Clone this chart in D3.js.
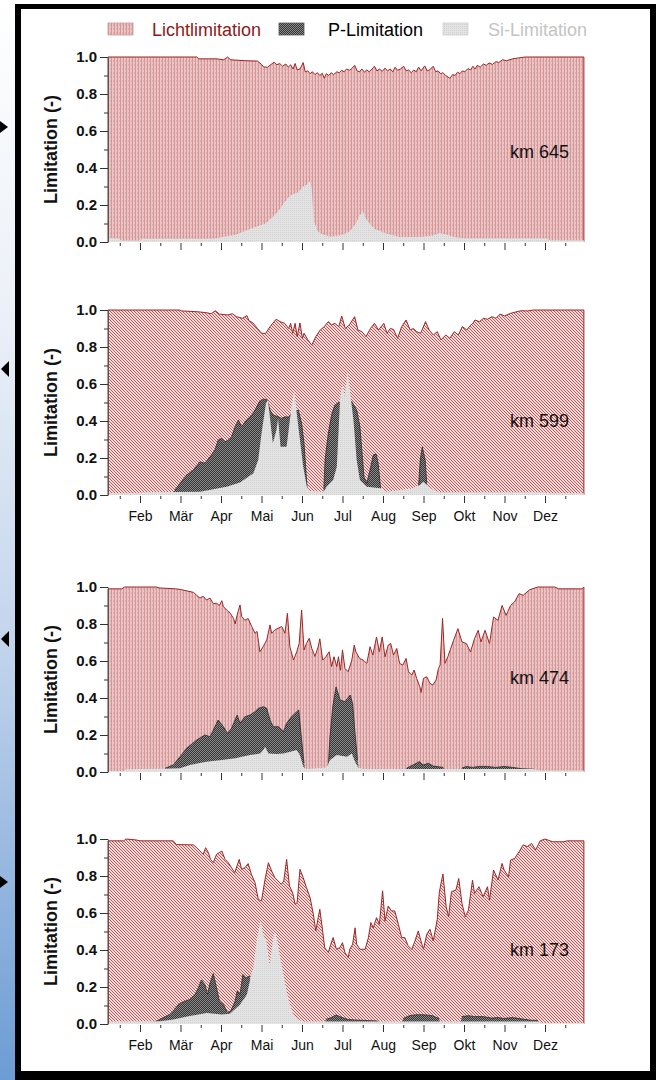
<!DOCTYPE html>
<html><head><meta charset="utf-8">
<script src="https://cdn.jsdelivr.net/npm/d3@7/dist/d3.min.js"></script>
<style>html,body{margin:0;padding:0;background:#fff}svg{display:block}</style>
</head><body>
<svg id="chart" width="658" height="1080"></svg>
<script>
// ---------- data (x in months: 1 = Feb ... 11 = Dez) ----------
const monthLabels = ["Feb","Mär","Apr","Mai","Jun","Jul","Aug","Sep","Okt","Nov","Dez"];
const monthTicks = [1,2,3,4,5,6,7,8,9,10,11];
const halfTicks = [0.5,1.5,2.5,3.5,4.5,5.5,6.5,7.5,8.5,9.5,10.5,11.5];
const yTicks = [0,0.2,0.4,0.6,0.8,1.0];
const yMinor = [0.1,0.3,0.5,0.7,0.9];
const stations = ["km 645","km 599","km 474","km 173"];
const stationLabelY = [0.49,0.405,0.51,0.40];
const legendNames = ["Lichtlimitation","P-Limitation","Si-Limitation"];

const licht645 = [[0.21,1],[2.4,1],[2.45,0.99],[2.9,0.99],[3.07,0.985],[3.16,1],[3.24,0.985],[3.59,0.98],[3.9,0.978],[4.0,0.96],[4.05,0.946],[4.15,0.945],[4.31,0.972],[4.38,0.958],[4.45,0.965],[4.52,0.95],[4.6,0.962],[4.66,0.945],[4.72,0.958],[4.78,0.935],[4.83,0.965],[4.88,0.93],[4.95,0.935],[5.03,0.97],[5.08,0.92],[5.14,0.925],[5.2,0.91],[5.26,0.92],[5.32,0.905],[5.38,0.915],[5.44,0.9],[5.5,0.912],[5.55,0.885],[5.6,0.91],[5.66,0.9],[5.72,0.915],[5.78,0.905],[5.86,0.92],[5.92,0.915],[5.98,0.928],[6.04,0.92],[6.1,0.935],[6.17,0.928],[6.23,0.938],[6.3,0.955],[6.36,0.925],[6.42,0.92],[6.48,0.935],[6.54,0.918],[6.6,0.93],[6.66,0.92],[6.73,0.935],[6.79,0.95],[6.85,0.925],[6.92,0.935],[6.98,0.922],[7.05,0.94],[7.11,0.925],[7.18,0.935],[7.24,0.92],[7.3,0.945],[7.36,0.928],[7.43,0.935],[7.51,0.95],[7.57,0.925],[7.63,0.93],[7.7,0.915],[7.76,0.93],[7.82,0.92],[7.88,0.945],[7.94,0.925],[8.03,0.952],[8.09,0.925],[8.15,0.93],[8.24,0.95],[8.3,0.92],[8.36,0.925],[8.42,0.91],[8.48,0.915],[8.55,0.9],[8.65,0.885],[8.72,0.905],[8.78,0.9],[8.84,0.918],[8.9,0.91],[8.96,0.925],[9.02,0.92],[9.1,0.938],[9.16,0.93],[9.22,0.95],[9.27,0.935],[9.33,0.955],[9.4,0.945],[9.48,0.962],[9.55,0.955],[9.62,0.968],[9.7,0.96],[9.79,0.975],[9.86,0.97],[9.95,0.985],[10.05,0.98],[10.2,0.99],[10.35,0.995],[10.51,1],[11.96,1]];
const p645 = [];
const si645 = [[0.21,0.021],[0.45,0.02],[0.55,0.008],[1.0,0.008],[1.05,0.018],[2.8,0.018],[3.07,0.028],[3.35,0.038],[3.59,0.06],[3.9,0.085],[4.1,0.1],[4.25,0.13],[4.41,0.165],[4.55,0.21],[4.66,0.24],[4.77,0.26],[4.88,0.265],[4.95,0.28],[5.03,0.3],[5.12,0.31],[5.19,0.33],[5.24,0.29],[5.29,0.12],[5.38,0.06],[5.5,0.04],[5.71,0.028],[5.96,0.036],[6.17,0.055],[6.3,0.09],[6.42,0.14],[6.5,0.168],[6.58,0.125],[6.79,0.07],[7.1,0.045],[7.41,0.027],[7.93,0.027],[8.24,0.035],[8.39,0.048],[8.55,0.04],[8.76,0.027],[9.0,0.02],[11.03,0.02],[11.13,0.01],[11.96,0.01]];

const licht599 = [[0.21,1],[1.98,1],[2.03,0.995],[2.45,0.99],[2.65,0.985],[2.76,0.98],[2.86,0.996],[2.96,0.978],[3.17,0.973],[3.28,0.98],[3.38,0.964],[3.53,0.955],[3.64,0.97],[3.69,0.942],[3.79,0.93],[3.9,0.9],[4.0,0.875],[4.1,0.873],[4.21,0.91],[4.36,0.95],[4.46,0.937],[4.57,0.928],[4.67,0.9],[4.72,0.928],[4.77,0.874],[4.83,0.928],[4.88,0.856],[4.95,0.93],[5.01,0.847],[5.05,0.874],[5.14,0.84],[5.24,0.81],[5.34,0.856],[5.45,0.892],[5.55,0.91],[5.65,0.937],[5.73,0.92],[5.81,0.928],[5.91,0.91],[5.98,0.968],[6.07,0.9],[6.17,0.92],[6.3,0.964],[6.38,0.892],[6.48,0.883],[6.58,0.856],[6.69,0.9],[6.79,0.928],[6.89,0.892],[7.02,0.928],[7.1,0.874],[7.18,0.9],[7.26,0.895],[7.36,0.847],[7.46,0.91],[7.57,0.946],[7.67,0.892],[7.75,0.9],[7.83,0.883],[7.93,0.874],[8.05,0.937],[8.14,0.892],[8.24,0.865],[8.34,0.883],[8.43,0.838],[8.55,0.865],[8.65,0.847],[8.76,0.883],[8.86,0.865],[8.96,0.91],[9.07,0.892],[9.15,0.915],[9.22,0.928],[9.27,0.946],[9.38,0.937],[9.48,0.955],[9.58,0.95],[9.69,0.964],[9.79,0.955],[9.89,0.978],[10.0,0.968],[10.15,0.982],[10.31,0.991],[10.41,0.996],[10.57,0.995],[10.72,1],[11.96,1]];
const p599 = [[1.8,0],[1.86,0.027],[1.99,0.063],[2.15,0.108],[2.32,0.135],[2.48,0.18],[2.6,0.171],[2.73,0.207],[2.85,0.243],[2.93,0.297],[3.02,0.306],[3.1,0.288],[3.18,0.297],[3.26,0.315],[3.35,0.369],[3.43,0.405],[3.51,0.369],[3.63,0.405],[3.76,0.432],[3.84,0.459],[3.95,0.505],[4.05,0.519],[4.14,0.514],[4.21,0.459],[4.29,0.432],[4.42,0.423],[4.5,0.414],[4.58,0.423],[4.66,0.42],[4.74,0.44],[4.91,0.459],[4.99,0.387],[5.05,0.279],[5.1,0.117],[5.13,0.027],[5.16,0],[5.51,0],[5.54,0.03],[5.57,0.19],[5.65,0.333],[5.73,0.432],[5.81,0.486],[5.9,0.5],[6.23,0.505],[6.35,0.459],[6.43,0.369],[6.47,0.261],[6.53,0.099],[6.6,0.063],[6.68,0.135],[6.76,0.216],[6.83,0.222],[6.88,0.171],[6.94,0.036],[6.97,0],[7.85,0],[7.88,0.05],[7.92,0.19],[7.97,0.26],[8.04,0.19],[8.08,0.063],[8.12,0]];
const si599 = [[0.21,0.01],[1.0,0.01],[1.05,0.015],[2.48,0.018],[3.14,0.045],[3.47,0.067],[3.8,0.117],[3.92,0.19],[4.0,0.333],[4.11,0.495],[4.16,0.514],[4.28,0.28],[4.37,0.351],[4.41,0.414],[4.47,0.261],[4.62,0.261],[4.74,0.477],[4.81,0.568],[4.87,0.441],[4.95,0.297],[5.03,0.153],[5.12,0.045],[5.2,0.022],[5.53,0.018],[5.61,0.045],[5.77,0.081],[5.86,0.153],[5.94,0.514],[6.0,0.604],[6.05,0.532],[6.13,0.667],[6.19,0.55],[6.27,0.405],[6.35,0.189],[6.43,0.081],[6.6,0.045],[6.93,0.036],[7.09,0.018],[7.74,0.036],[7.91,0.054],[7.99,0.072],[8.08,0.054],[8.24,0.027],[8.4,0.015],[11.0,0.015],[11.1,0.01],[11.96,0.01]];

const licht474 = [[0.21,0.99],[0.55,0.99],[0.62,1],[1.4,1],[1.47,0.995],[1.88,0.99],[1.99,0.987],[2.32,0.971],[2.4,0.955],[2.48,0.94],[2.56,0.95],[2.64,0.93],[2.73,0.94],[2.81,0.91],[2.89,0.912],[2.96,0.9],[3.02,0.926],[3.06,0.894],[3.14,0.876],[3.23,0.858],[3.31,0.83],[3.35,0.8],[3.4,0.85],[3.47,0.903],[3.51,0.84],[3.59,0.82],[3.67,0.83],[3.76,0.786],[3.84,0.75],[3.89,0.76],[3.96,0.65],[4.04,0.677],[4.13,0.714],[4.21,0.795],[4.25,0.75],[4.33,0.768],[4.41,0.777],[4.5,0.786],[4.58,0.75],[4.64,0.858],[4.7,0.678],[4.79,0.605],[4.87,0.65],[4.93,0.695],[4.99,0.876],[5.05,0.66],[5.11,0.695],[5.18,0.723],[5.24,0.668],[5.32,0.625],[5.4,0.677],[5.44,0.72],[5.51,0.605],[5.59,0.623],[5.67,0.65],[5.73,0.57],[5.79,0.623],[5.86,0.57],[5.9,0.623],[5.95,0.55],[6.0,0.66],[6.06,0.56],[6.14,0.542],[6.23,0.605],[6.29,0.686],[6.33,0.65],[6.42,0.614],[6.51,0.605],[6.6,0.587],[6.68,0.677],[6.75,0.632],[6.84,0.73],[6.91,0.65],[6.98,0.73],[7.05,0.623],[7.13,0.686],[7.19,0.695],[7.26,0.632],[7.34,0.668],[7.41,0.587],[7.49,0.578],[7.57,0.614],[7.63,0.542],[7.71,0.524],[7.77,0.551],[7.83,0.506],[7.91,0.461],[7.94,0.43],[8.0,0.506],[8.08,0.515],[8.16,0.479],[8.23,0.47],[8.31,0.497],[8.37,0.56],[8.41,0.578],[8.47,0.83],[8.53,0.587],[8.6,0.623],[8.66,0.66],[8.74,0.71],[8.85,0.775],[8.95,0.703],[9.06,0.694],[9.16,0.649],[9.26,0.721],[9.35,0.766],[9.42,0.703],[9.52,0.766],[9.63,0.694],[9.73,0.838],[9.84,0.82],[9.94,0.9],[10.04,0.847],[10.15,0.9],[10.25,0.92],[10.36,0.964],[10.46,0.955],[10.62,0.985],[10.82,1],[11.24,1],[11.34,0.99],[11.91,0.99],[11.96,1]];
const p474 = [[1.58,0],[1.62,0.02],[1.82,0.038],[1.99,0.083],[2.15,0.128],[2.4,0.173],[2.6,0.2],[2.73,0.191],[2.85,0.245],[2.93,0.281],[3.06,0.245],[3.16,0.209],[3.26,0.236],[3.4,0.308],[3.47,0.263],[3.59,0.299],[3.72,0.308],[3.84,0.326],[3.92,0.344],[4.05,0.353],[4.13,0.344],[4.21,0.281],[4.29,0.245],[4.42,0.245],[4.54,0.218],[4.62,0.263],[4.74,0.299],[4.87,0.326],[4.92,0.335],[4.99,0.173],[5.05,0.047],[5.1,0],[5.62,0],[5.65,0.03],[5.69,0.19],[5.76,0.353],[5.84,0.46],[5.94,0.39],[6.06,0.38],[6.19,0.416],[6.25,0.37],[6.31,0.209],[6.37,0.065],[6.42,0],[7.54,0],[7.58,0.02],[7.74,0.038],[7.9,0.056],[7.99,0.038],[8.12,0.047],[8.24,0.032],[8.49,0.025],[8.53,0],[8.9,0],[8.95,0.022],[9.06,0.03],[9.21,0.025],[9.37,0.03],[9.58,0.03],[9.78,0.025],[9.99,0.03],[10.2,0.025],[10.41,0.018],[10.72,0.015],[10.88,0]];
const si474 = [[0.21,0.005],[0.6,0.005],[0.65,0.015],[1.58,0.018],[1.99,0.02],[2.23,0.038],[2.64,0.056],[3.02,0.065],[3.35,0.074],[3.72,0.092],[3.97,0.1],[4.05,0.12],[4.09,0.137],[4.17,0.1],[4.38,0.097],[4.54,0.1],[4.71,0.11],[4.87,0.119],[4.95,0.09],[5.03,0.03],[5.11,0.016],[5.61,0.025],[5.69,0.065],[5.86,0.092],[6.11,0.083],[6.23,0.1],[6.31,0.056],[6.39,0.025],[6.52,0.016],[10.7,0.016],[10.9,0.008],[11.96,0.008]];

const licht173 = [[0.21,0.99],[0.6,0.99],[0.65,1],[0.9,0.995],[1.0,0.99],[1.82,0.99],[1.9,0.97],[2.32,0.968],[2.4,0.953],[2.48,0.935],[2.56,0.917],[2.62,0.953],[2.69,0.926],[2.74,0.89],[2.81,0.872],[2.89,0.917],[3.02,0.935],[3.1,0.89],[3.18,0.872],[3.26,0.845],[3.34,0.818],[3.45,0.89],[3.51,0.836],[3.59,0.845],[3.67,0.867],[3.75,0.809],[3.84,0.764],[3.92,0.674],[4.0,0.665],[4.08,0.773],[4.17,0.872],[4.25,0.827],[4.33,0.791],[4.41,0.773],[4.49,0.755],[4.55,0.773],[4.62,0.89],[4.69,0.746],[4.77,0.71],[4.83,0.647],[4.88,0.656],[4.95,0.836],[5.03,0.791],[5.11,0.737],[5.2,0.683],[5.28,0.593],[5.34,0.503],[5.4,0.575],[5.44,0.62],[5.51,0.503],[5.56,0.413],[5.65,0.386],[5.71,0.431],[5.77,0.467],[5.85,0.404],[5.94,0.413],[6.0,0.44],[6.06,0.386],[6.14,0.359],[6.18,0.404],[6.25,0.431],[6.31,0.52],[6.35,0.431],[6.43,0.404],[6.56,0.404],[6.64,0.467],[6.7,0.548],[6.76,0.52],[6.84,0.575],[6.91,0.539],[6.99,0.72],[7.05,0.557],[7.13,0.638],[7.21,0.611],[7.29,0.611],[7.38,0.539],[7.46,0.467],[7.54,0.467],[7.62,0.422],[7.71,0.404],[7.79,0.449],[7.87,0.503],[7.96,0.431],[8.0,0.404],[8.08,0.485],[8.16,0.512],[8.24,0.449],[8.34,0.566],[8.39,0.71],[8.43,0.757],[8.48,0.811],[8.56,0.632],[8.62,0.58],[8.69,0.715],[8.8,0.724],[8.87,0.787],[8.95,0.652],[9.03,0.58],[9.11,0.616],[9.21,0.778],[9.26,0.706],[9.37,0.742],[9.47,0.688],[9.58,0.742],[9.63,0.67],[9.73,0.832],[9.84,0.778],[9.94,0.868],[9.99,0.832],[10.1,0.796],[10.15,0.886],[10.25,0.895],[10.36,0.931],[10.46,0.968],[10.56,0.959],[10.67,0.976],[10.77,0.941],[10.88,0.99],[11.0,1],[11.19,0.985],[11.45,0.985],[11.55,0.99],[11.96,0.99]];
const p173 = [[1.0,0],[1.05,0.008],[1.3,0.008],[1.4,0.015],[1.49,0.025],[1.74,0.052],[1.82,0.07],[1.95,0.106],[2.07,0.12],[2.23,0.133],[2.36,0.16],[2.44,0.196],[2.52,0.238],[2.6,0.214],[2.67,0.16],[2.73,0.223],[2.81,0.272],[2.88,0.205],[2.96,0.124],[3.06,0.106],[3.16,0.061],[3.24,0.07],[3.35,0.124],[3.4,0.178],[3.47,0.16],[3.54,0.268],[3.62,0.25],[3.72,0.26],[3.74,0],[5.55,0],[5.59,0.025],[5.71,0.034],[5.84,0.049],[5.96,0.038],[6.13,0.025],[6.29,0.022],[6.87,0.016],[6.91,0],[7.45,0],[7.5,0.03],[7.65,0.045],[7.81,0.05],[8.02,0.05],[8.22,0.045],[8.38,0.03],[8.43,0],[8.9,0],[8.95,0.04],[9.11,0.045],[9.26,0.04],[9.47,0.04],[9.68,0.032],[9.84,0.035],[9.99,0.03],[10.2,0.035],[10.41,0.028],[10.67,0.02],[10.82,0.02],[10.93,0]];
const si173 = [[0.21,0.013],[1.5,0.015],[1.82,0.025],[2.23,0.043],[2.65,0.06],[3.02,0.052],[3.22,0.056],[3.47,0.106],[3.64,0.16],[3.73,0.25],[3.8,0.305],[3.88,0.449],[3.94,0.52],[3.98,0.56],[4.04,0.485],[4.12,0.449],[4.2,0.32],[4.24,0.38],[4.29,0.467],[4.33,0.5],[4.39,0.45],[4.46,0.36],[4.54,0.268],[4.62,0.178],[4.7,0.106],[4.79,0.052],[4.91,0.025],[5.03,0.013],[10.88,0.013],[10.95,0.005],[11.96,0.005]];

const lichtSeries = [licht645, licht599, licht474, licht173];
const pSeries = [p645, p599, p474, p173];
const siSeries = [si645, si599, si474, si173];

// ---------- layout ----------
const W = 658, H = 1080;
const panelTops = [57, 310, 587, 839];
const panelH = 185;
const lichtPatterns = ["lichtV","lichtD","lichtV","lichtD"];
const showMonthLabels = [false, true, false, true];
const FONT = "'Liberation Sans', Arial, Helvetica, sans-serif";

const svg = d3.select("#chart");
const defs = svg.append("defs");

// left gradient strip
const grad = defs.append("linearGradient").attr("id","strip").attr("x1",0).attr("y1",0).attr("x2",0).attr("y2",1);
[[0,"#ffffff"],[0.3,"#eaf0f8"],[0.6,"#c2d4ec"],[1,"#6c9cd4"]].forEach(s=>grad.append("stop").attr("offset",s[0]).attr("stop-color",s[1]));

// patterns
function pat(id,w,h){return defs.append("pattern").attr("id",id).attr("patternUnits","userSpaceOnUse").attr("width",w).attr("height",h);}
let p = pat("lichtV",3,4);
p.append("rect").attr("width",3).attr("height",4).attr("fill","#ebc5c5");
p.append("rect").attr("x",0).attr("width",1).attr("height",4).attr("fill","#d49696");
p.append("rect").attr("x",2).attr("y",0).attr("width",1).attr("height",2).attr("fill","#e0afaf");
p = pat("lichtD",3,3);
p.append("rect").attr("width",3).attr("height",3).attr("fill","#f5dede");
p.append("path").attr("d","M0,0L3,3M-1,2L1,4M2,-1L4,1").attr("stroke","#c24c4c").attr("stroke-width",0.95);
p = pat("pDark",2,2);
p.append("rect").attr("width",2).attr("height",2).attr("fill","#333");
p.append("rect").attr("width",1).attr("height",1).attr("fill","#8c8c8c");
p.append("rect").attr("x",1).attr("y",1).attr("width",1).attr("height",1).attr("fill","#8c8c8c");
p = pat("siLight",2,2);
p.append("rect").attr("width",2).attr("height",2).attr("fill","#e3e3e3");
p.append("rect").attr("width",1).attr("height",1).attr("fill","#d2d2d2");

// frame
svg.append("rect").attr("x",0).attr("y",0).attr("width",15).attr("height",H).attr("fill","url(#strip)");
svg.append("rect").attr("x",15).attr("y",4).attr("width",641).attr("height",H-4).attr("fill","#000");
svg.append("rect").attr("x",21).attr("y",9).attr("width",629).attr("height",1062).attr("fill","#fff");
const arrows = [
  [[0,121],[8,127],[0,133]],
  [[1,369],[9,361],[9,377]],
  [[1,639],[9,631],[9,647]],
  [[0,876],[8,882],[0,888]]
];
svg.selectAll("polygon.arrow").data(arrows).join("polygon").attr("class","arrow")
  .attr("points",d=>d.map(q=>q.join(",")).join(" ")).attr("fill","#000");

// scales
const x = d3.scaleLinear().domain([0,12]).range([99.5, 585.5]);

// legend
const legend = svg.append("g");
const legSw = [108, 279, 443], legTx = [152, 328, 488];
const legFill = ["url(#lichtV)","url(#pDark)","url(#siLight)"];
const legStroke = ["#c89a9a","#555","#d0d0d0"];
const legColor = ["#8b1a1a","#000","#c4c4c4"];
legendNames.forEach((n,i)=>{
  legend.append("rect").attr("x",legSw[i]).attr("y",23).attr("width",25).attr("height",12)
    .attr("fill",legFill[i]).attr("stroke",legStroke[i]).attr("stroke-width",0.8);
  legend.append("text").attr("x",legTx[i]).attr("y",36).text(n)
    .attr("font-family",FONT).attr("font-size",18).attr("fill",legColor[i]);
});

// panels
panelTops.forEach((top,i)=>{
  const base = top + panelH;
  const y = d3.scaleLinear().domain([0,1]).range([base, top]);
  const g = svg.append("g");
  const area = d3.area().x(d=>x(d[0])).y0(y(0)).y1(d=>y(d[1]));
  const line = d3.line().x(d=>x(d[0])).y(d=>y(d[1]));

  // light limitation
  g.append("path").datum(lichtSeries[i]).attr("d",area).attr("fill",`url(#${lichtPatterns[i]})`);
  const L = lichtSeries[i];
  const outline = [[L[0][0],0]].concat(L,[[L[L.length-1][0],0]]);
  g.append("path").datum(outline).attr("d",line).attr("fill","none").attr("stroke","#9c2626").attr("stroke-width",1);

  // P limitation
  if (pSeries[i].length){
    g.append("path").datum(pSeries[i]).attr("d",area).attr("fill","url(#pDark)");
    const pl = d3.line().defined(d=>d[1]>0.001).x(d=>x(d[0])).y(d=>y(d[1]));
    g.append("path").datum(pSeries[i]).attr("d",pl).attr("fill","none").attr("stroke","#2a2a2a").attr("stroke-width",0.8);
  }
  // Si limitation
  g.append("path").datum(siSeries[i]).attr("d",area).attr("fill","url(#siLight)");

  // y axis
  const ya = g.append("g").attr("transform",`translate(108,0)`)
    .call(d3.axisLeft(y).tickValues(yTicks).tickFormat(d3.format(".1f")).tickSize(8).tickSizeOuter(0).tickPadding(3));
  ya.select(".domain").attr("stroke","#555");
  ya.selectAll(".tick line").attr("stroke","#333");
  ya.selectAll("text").attr("font-family",FONT).attr("font-size",15).attr("font-weight","bold").attr("fill","#111");
  const ym = g.append("g").attr("transform",`translate(108,0)`)
    .call(d3.axisLeft(y).tickValues(yMinor).tickFormat("").tickSize(4).tickSizeOuter(0));
  ym.select(".domain").remove();
  ym.selectAll(".tick line").attr("stroke","#333");

  // x axis
  const xa = g.append("g").attr("transform",`translate(0,${base+1})`)
    .call(d3.axisBottom(x).tickValues(monthTicks).tickSize(7).tickPadding(8)
      .tickFormat(d=> showMonthLabels[i] ? monthLabels[d-1] : ""));
  xa.select(".domain").remove();
  xa.selectAll(".tick line").attr("stroke","#333");
  xa.selectAll("text").attr("font-family",FONT).attr("font-size",14).attr("fill","#111");
  const xm = g.append("g").attr("transform",`translate(0,${base+1})`)
    .call(d3.axisBottom(x).tickValues(halfTicks).tickSize(3).tickFormat(""));
  xm.select(".domain").remove();
  xm.selectAll(".tick line").attr("stroke","#333");

  // y label
  g.append("text").attr("transform",`translate(57,${(top+base)/2}) rotate(-90)`)
    .attr("text-anchor","middle").attr("font-family",FONT).attr("font-size",18).attr("font-weight","bold")
    .attr("fill","#111").text("Limitation (-)");

  // station label
  g.append("text").attr("x",569).attr("y",y(stationLabelY[i])).attr("dy","0.36em")
    .attr("text-anchor","end").attr("font-family",FONT).attr("font-size",18).attr("fill","#111").text(stations[i]);
});
</script>
</body></html>
